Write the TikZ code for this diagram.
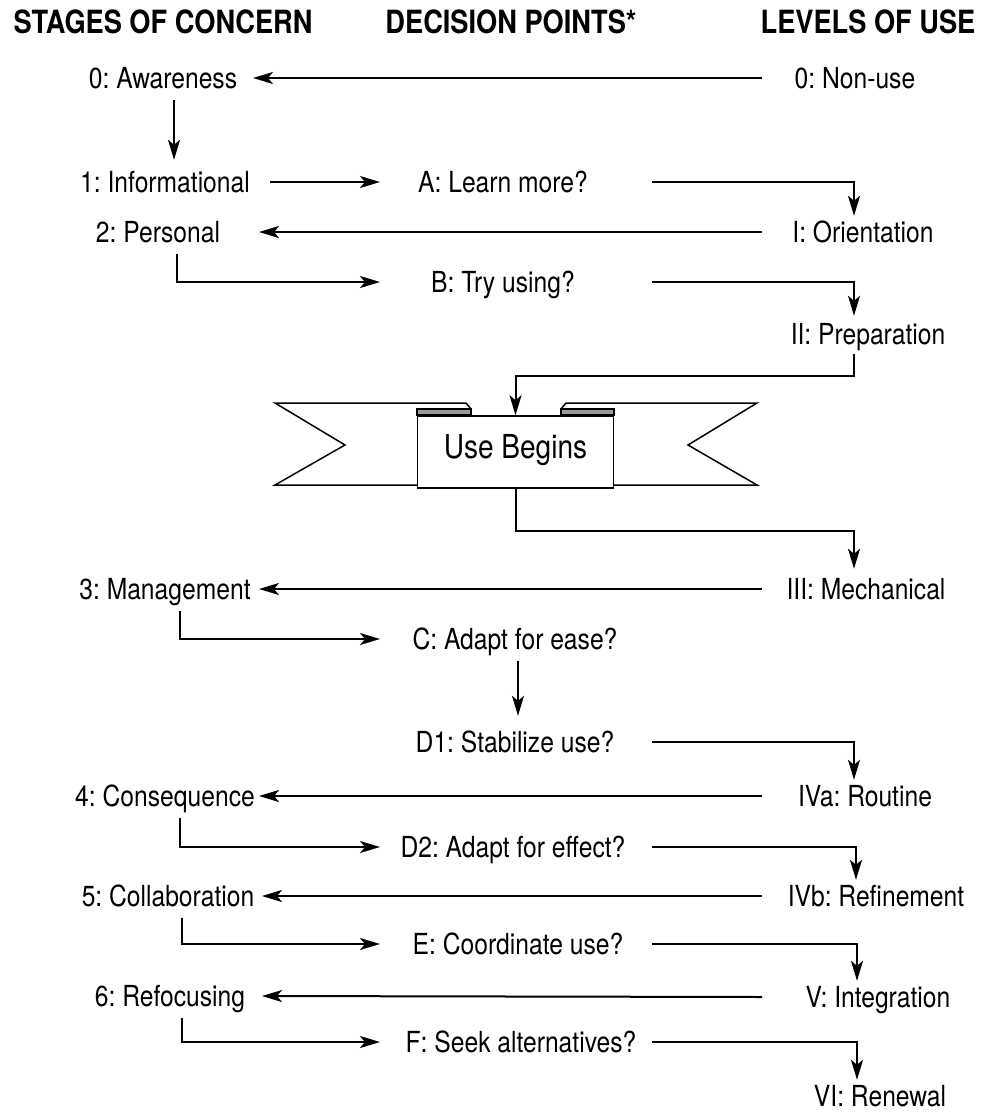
\documentclass[tikz,border=0pt]{standalone}
\usepackage{fontspec}
\setmainfont[FakeStretch=0.85]{TeX Gyre Heros}
\usetikzlibrary{arrows.meta,calc}
\begin{document}
\frenchspacing
\begin{tikzpicture}[x=1pt,y=-1pt,
  lbl/.style={anchor=base, inner sep=0pt, text height=20pt, text depth=0pt, font=\fontsize{29}{32}\selectfont\frenchspacing},
  hdr/.style={anchor=base, inner sep=0pt, font=\fontsize{32}{36}\selectfont\bfseries\frenchspacing},
  con/.style={line width=2pt, -{Stealth[length=20pt,width=12pt,inset=5pt]}},
  ribbon/.style={draw, line width=1.5pt, fill=white, line join=miter},
  fold/.style={draw, line width=1.2pt, fill=black!40}]
\useasboundingbox (0,0) rectangle (984,1119);
% column coordinates
\coordinate (lc) at (180,0);
\coordinate (me) at (380,0);
\coordinate (ms) at (652,0);
\coordinate (rc) at (854,0);
\coordinate (rs) at (762,0);
\coordinate (le) at (259,0);
% headers
\node[hdr] (h1) at (163,33) {STAGES OF CONCERN};
\node[hdr] (h2) at (511,33) {DECISION POINTS*};
\node[hdr] (h3) at (868,33) {LEVELS OF USE};
% left column
\node[lbl] (aware) at (163,88) {0: Awareness};
\node[lbl] (info) at (165,192) {1: Informational};
\node[lbl] (personal) at (158,242) {2: Personal};
\node[lbl] (manage) at (165,599) {3: Management};
\node[lbl] (conseq) at (165,806) {4: Consequence};
\node[lbl] (collab) at (168,906) {5: Collaboration};
\node[lbl] (refocus) at (170,1006) {6: Refocusing};
% middle column
\node[lbl] (learn) at (503,192) {A: Learn more?};
\node[lbl] (try) at (503,292) {B: Try using?};
\node[lbl] (adapt) at (515,649) {C: Adapt for ease?};
\node[lbl] (stab) at (515,752) {D1: Stabilize use?};
\node[lbl] (effect) at (513,857) {D2: Adapt for effect?};
\node[lbl] (coord) at (518,954) {E: Coordinate use?};
\node[lbl] (seek) at (521,1052) {F: Seek alternatives?};
% right column
\node[lbl] (nonuse) at (855,88) {0: Non-use};
\node[lbl] (orient) at (863,242) {I: Orientation};
\node[lbl] (prep) at (868,344) {II: Preparation};
\node[lbl] (mech) at (866,599) {III: Mechanical};
\node[lbl] (routine) at (865,806) {IVa: Routine};
\node[lbl] (refine) at (876,906) {IVb: Refinement};
\node[lbl] (integ) at (878,1007) {V: Integration};
\node[lbl] (renew) at (880,1106) {VI: Renewal};
% banner
\draw[ribbon] (420,485) -- (275,485) -- (345,445) -- (275,403) -- (466,403) -- (471,409) -- (471,485) -- cycle;
\draw[ribbon] (613,485) -- (757,485) -- (688,445) -- (757,403) -- (566,403) -- (561,409) -- (561,485) -- cycle;
\draw[fold] (417,409) rectangle (471,415);
\draw[fold] (561,409) rectangle (614,415);
\node[draw, fill=white, line width=1.5pt, minimum width=196pt, minimum height=72pt,
      text height=24pt, text depth=12pt, inner sep=0pt,
      font=\fontsize{33}{36}\selectfont] (use) at (515.5,452) {Use Begins};
% connectors
\draw[con] (rs |- nonuse) -- ($(le |- aware)+(-6,0)$);
\draw[con] ($(aware.south)+(11,12)$) -- ($(info.north)+(9,-12)$);
\draw[con] ($(info.east)+(20,0)$) -- (me |- learn);
\draw[con] (ms |- learn) -| ($(rc |- orient.north)+(0,-6)$);
\draw[con] (rs |- orient) -- (le |- personal);
\draw[con] ($(lc |- personal.south)+(-3,12)$) |- (me |- try);
\draw[con] (ms |- try) -| ($(rc |- prep.north)+(0,-8)$);
\draw[con] ($(rc |- prep.south)+(0,10)$) -- ++(0,22) -| (use.north);
\draw[con] (use.south) -- ++(0,42) -| ($(rc |- mech.north)+(0,-10)$);
\draw[con] (rs |- mech) -- (le |- manage);
\draw[con] ($(lc |- manage.south)+(0,12)$) |- (me |- adapt);
\draw[con] ($(adapt.south)+(3,12)$) -- ($(stab.north)+(3,-16)$);
\draw[con] (ms |- stab) -| ($(rc |- routine.north)+(0,-6)$);
\draw[con] (rs |- routine) -- (le |- conseq);
\draw[con] ($(lc |- conseq.south)+(0,12)$) |- (me |- effect);
\draw[con] (ms |- effect) -| ($(rc |- refine.north)+(2,-6)$);
\draw[con] (rs |- refine) -- ($(le |- collab)+(3,0)$);
\draw[con] ($(lc |- collab.south)+(2,12)$) |- (me |- coord);
\draw[con] (ms |- coord) -| ($(rc |- integ.north)+(3,-6)$);
\draw[con] (rs |- integ) -- ($(le |- refocus)+(3,0)$);
\draw[con] ($(lc |- refocus.south)+(2,12)$) |- (me |- seek);
\draw[con] (ms |- seek) -| ($(rc |- renew.north)+(3,-6)$);
\end{tikzpicture}
\end{document}
